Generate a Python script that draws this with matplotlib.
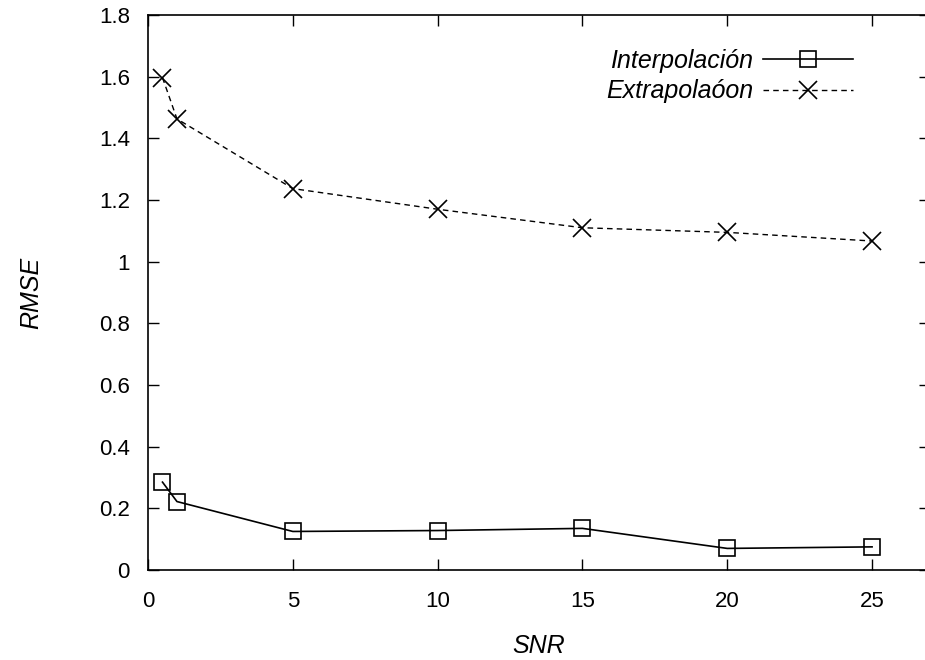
import matplotlib.pyplot as plt

snr = [0.5, 1, 5, 10, 15, 20, 25]
interp = [0.285, 0.222, 0.125, 0.128, 0.135, 0.070, 0.075]
extrap = [1.597, 1.463, 1.237, 1.170, 1.110, 1.095, 1.067]

plt.rcParams['font.family'] = ['Liberation Sans', 'DejaVu Sans']

fig = plt.figure(figsize=(9.25, 6.6), dpi=100)
ax = fig.add_axes([148 / 925, 90 / 660, 782 / 925, 555 / 660])

ax.plot(snr, interp, color="black", linewidth=1.2, marker="s", markersize=12,
        markerfacecolor="none", markeredgewidth=1.2, label="Interpolación")
ax.plot(snr, extrap, color="black", linewidth=1.0, linestyle=(0, (4, 3)),
        marker="x", markersize=13, markeredgewidth=1.2, label="Extrapolaóon")

ax.set_xlim(0, 27)
ax.set_ylim(0, 1.8)
ax.set_xticks([0, 5, 10, 15, 20, 25])
ax.set_yticks([0, 0.2, 0.4, 0.6, 0.8, 1.0, 1.2, 1.4, 1.6, 1.8])
ax.set_yticklabels(["0", "0.2", "0.4", "0.6", "0.8", "1", "1.2", "1.4", "1.6", "1.8"])
ax.tick_params(direction="in", length=8, width=1, top=True, right=True,
               labelsize=16)
ax.tick_params(axis="x", pad=15)
ax.tick_params(axis="y", pad=13)
for s in ax.spines.values():
    s.set_linewidth(1.2)

ax.set_xlabel("SNR", fontsize=18, style="italic", labelpad=16)
ax.set_ylabel("RMSE", fontsize=18, style="italic", labelpad=40)

ax.legend(loc="upper right", bbox_to_anchor=(853 / 925, 1 - 49 / 660),
          bbox_transform=fig.transFigure, frameon=False, borderpad=0,
          borderaxespad=0, markerfirst=False, handlelength=3.6,
          handletextpad=0.4, prop={"style": "italic", "size": 18},
          labelspacing=0.25)

plt.savefig("out.png", dpi=100)
